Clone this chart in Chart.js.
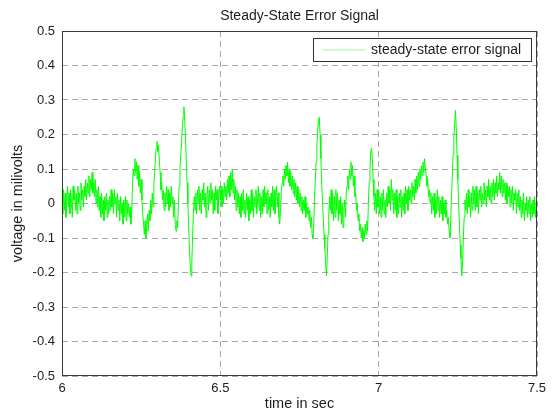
<!DOCTYPE html>
<html>
<head>
<meta charset="utf-8">
<script src="https://cdn.jsdelivr.net/npm/chart.js@4.4.1/dist/chart.umd.min.js"></script>
<style>
  html, body { margin: 0; padding: 0; background: #fff; }
  #wrap { width: 554px; height: 415px; position: relative; }
</style>
</head>
<body>
<div id="wrap"><canvas id="c" width="554" height="415"></canvas></div>
<script>
// ---- data ----
const chartTitle = 'Steady-State Error Signal';
const seriesName = 'steady-state error signal';
const xTitle = 'time in sec';
const yTitle = 'voltage in milivolts';

const tStart = 6.0;       // first sample time (s)
const tStep = 0.0025;     // sampling step (s)

// 6.000 .. 6.4975 s  (4 samples per 0.01 s, one line per 0.05 s)
const voltage6to6_5 = [
  0.02,-0.03,0.04,-0.02, 0.03,-0.04,0.01,0.05, -0.01,0.03,-0.03,0.04, 0.00,-0.04,0.05,0.01, 0.04,-0.02,0.03,-0.03,
  0.05,0.00,0.03,-0.02, 0.06,0.01,0.04,-0.01, 0.05,0.02,0.07,0.01, 0.06,0.03,0.08,0.02, 0.07,0.04,0.09,0.03,
  0.06,0.02,0.07,0.00, 0.04,-0.01,0.05,-0.02, 0.02,-0.04,0.03,-0.03, 0.01,-0.05,0.02,-0.02, 0.03,-0.04,0.01,-0.03,
  0.02,-0.02,0.04,-0.01, 0.03,-0.03,0.04,0.00, 0.02,-0.04,0.03,-0.02, 0.01,-0.05,0.02,-0.03, 0.00,-0.06,0.01,-0.04,
  0.02,-0.05,0.01,-0.03, 0.00,-0.04,-0.01,-0.06, -0.03,0.05,0.10,0.08, 0.13,0.09,0.12,0.07, 0.11,0.05,0.09,0.03,
  0.07,0.01,-0.03,-0.06, -0.09,-0.05,-0.10,-0.07, -0.03,-0.08,-0.02,-0.05, 0.01,-0.03,0.03,-0.01, 0.05,0.09,0.13,0.16,
  0.18,0.15,0.17,0.12, 0.09,0.04,0.06,0.01, 0.04,-0.02,0.03,-0.01, 0.05,0.00,0.04,-0.02, 0.03,-0.01,0.05,0.00,
  0.02,-0.04,0.01,-0.06, -0.08,-0.05,-0.07,0.00, 0.05,0.10,0.14,0.18, 0.22,0.25,0.28,0.24, 0.19,0.12,0.06,0.00,
  -0.07,-0.13,-0.18,-0.21, -0.17,-0.09,-0.03,0.02, -0.02,0.03,-0.03,0.04, 0.00,0.05,-0.02,0.03, -0.03,0.04,0.01,0.06,
  -0.01,0.03,-0.04,0.02, 0.05,-0.02,0.04,0.00, 0.06,0.01,0.04,-0.03, 0.03,-0.02,0.05,0.01, 0.04,-0.03,0.02,0.05
];
// 6.500 .. 6.9975 s
const voltage6_5to7 = [
  0.01,0.05,-0.01,0.04, 0.00,0.06,0.02,0.05, 0.01,0.07,0.03,0.08, 0.02,0.09,0.04,0.10, 0.03,0.07,0.01,0.05,
  -0.02,0.04,-0.01,0.03, -0.03,0.02,-0.04,0.03, -0.02,0.04,-0.03,0.01, -0.04,0.03,-0.02,0.02, -0.05,0.01,-0.03,0.04,
  -0.02,0.03,-0.04,0.02, -0.01,0.04,-0.03,0.01, 0.05,-0.02,0.03,-0.04, 0.02,-0.03,0.04,-0.01, 0.05,0.00,0.03,-0.03,
  0.04,-0.02,0.02,-0.04, 0.03,-0.01,0.05,-0.02, 0.04,-0.03,0.02,0.05, -0.01,0.03,-0.04,-0.06, -0.02,0.03,0.06,0.08,
  0.05,0.10,0.07,0.11, 0.08,0.12,0.06,0.10, 0.05,0.09,0.04,0.08, 0.03,0.07,0.02,0.06, 0.01,0.05,0.00,0.04,
  -0.01,0.03,-0.02,0.02, -0.03,0.01,-0.02,0.02, -0.04,0.00,-0.03,-0.01, -0.05,-0.02,-0.07,-0.04, -0.09,-0.10,-0.06,0.02,
  0.07,0.12,0.17,0.21, 0.24,0.25,0.20,0.13, 0.06,0.01,-0.04,-0.09, -0.13,-0.17,-0.21,-0.16, -0.09,-0.03,0.02,-0.02,
  0.04,-0.03,0.03,-0.05, 0.02,-0.04,0.04,-0.02, 0.03,-0.05,0.01,-0.03, 0.02,-0.06,0.00,-0.07, -0.02,0.01,-0.04,0.03,
  0.05,0.08,0.04,0.10, 0.07,0.12,0.08,0.11, 0.05,0.08,0.02,0.03, -0.02,0.00,-0.05,-0.03, -0.08,-0.06,-0.10,-0.07,
  -0.11,-0.08,-0.10,-0.06, -0.09,-0.05,-0.08,0.00, 0.06,0.10,0.15,0.16, 0.13,0.07,0.02,-0.02, 0.03,-0.03,0.04,-0.01
];
// 7.000 .. 7.500 s
const voltage7to7_5 = [
  0.04,-0.03,0.02,-0.04, 0.03,-0.02,0.04,-0.03, 0.01,-0.04,0.03,-0.01, 0.05,0.00,0.04,-0.02, 0.07,0.01,0.04,-0.03,
  0.03,-0.02,0.04,-0.04, 0.02,-0.03,0.03,-0.01, 0.04,-0.04,0.02,-0.02, 0.03,-0.03,0.05,0.00, 0.04,-0.02,0.05,0.01,
  0.04,0.00,0.06,0.02, 0.05,0.01,0.07,0.03, 0.08,0.04,0.09,0.05, 0.10,0.07,0.11,0.08, 0.12,0.09,0.13,0.10,
  0.08,0.05,0.07,0.02, 0.04,0.00,0.03,-0.03, 0.02,-0.02,0.03,-0.04, 0.01,-0.03,0.04,-0.02, 0.02,-0.04,0.01,-0.03,
  0.02,-0.05,0.00,-0.03, 0.01,-0.04,-0.02,-0.06, -0.04,-0.08,-0.10,-0.05, 0.02,0.08,0.14,0.19, 0.23,0.27,0.22,0.14,
  0.07,0.00,-0.06,-0.12, -0.16,-0.21,-0.17,-0.10, -0.04,0.01,-0.02,0.03, -0.03,0.04,-0.01,0.02, -0.04,0.03,-0.02,0.05,
  0.00,0.04,-0.02,0.05, -0.01,0.03,-0.03,0.04, 0.01,0.05,-0.01,0.03, 0.00,0.06,0.01,0.04, -0.01,0.05,0.02,0.07,
  0.01,0.05,0.00,0.06, 0.02,0.07,0.01,0.06, 0.03,0.08,0.02,0.06, 0.04,0.09,0.03,0.08, 0.02,0.07,0.03,0.06,
  0.01,0.06,0.00,0.05, 0.02,0.05,-0.01,0.04, 0.00,0.05,-0.02,0.03, 0.01,0.04,-0.03,0.03, -0.01,0.04,-0.02,0.02,
  -0.04,0.01,-0.03,0.03, -0.05,0.00,-0.02,0.02, -0.04,0.01,-0.03,0.02, -0.05,0.00,-0.04,0.01, -0.03,0.02,-0.04,0.00,
  -0.01
];

const xTickValues = [6, 6.5, 7, 7.5];
const xTickLabels = ['6', '6.5', '7', '7.5'];
const yTickValues = [-0.5, -0.4, -0.3, -0.2, -0.1, 0, 0.1, 0.2, 0.3, 0.4, 0.5];
const yTickLabels = ['-0.5', '-0.4', '-0.3', '-0.2', '-0.1', '0', '0.1', '0.2', '0.3', '0.4', '0.5'];

// ---- build points ----
const voltage = voltage6to6_5.concat(voltage6_5to7, voltage7to7_5);
const points = voltage.map((v, i) => ({ x: +(tStart + i * tStep).toFixed(4), y: v }));

const FONT = "'Liberation Sans', Arial, Helvetica, sans-serif";
const TEXT = '#1e1e1e';
const LINE_COLOR = '#00ff00';

const framePlugin = {
  id: 'frame',
  afterDraw(chart) {
    const { ctx, chartArea: a } = chart;
    ctx.save();
    // axes box
    ctx.strokeStyle = '#3a3a3a';
    ctx.lineWidth = 1;
    ctx.strokeRect(Math.round(a.left) + 0.5, Math.round(a.top) + 0.5,
                   Math.round(a.right - a.left) - 1, Math.round(a.bottom - a.top) - 1);
    // title, centred over the axes
    ctx.fillStyle = TEXT;
    ctx.font = '14px ' + FONT;
    ctx.textAlign = 'center';
    ctx.textBaseline = 'middle';
    ctx.fillText(chartTitle, (a.left + a.right) / 2, 16.5);
    // legend box (inside axes, top-right)
    const bw = 218, bh = 23;
    const bx = Math.round(a.right) - 6 - bw, by = Math.round(a.top) + 7;
    ctx.fillStyle = '#ffffff';
    ctx.fillRect(bx, by, bw, bh);
    ctx.strokeStyle = '#333333';
    ctx.strokeRect(bx + 0.5, by + 0.5, bw, bh);
    ctx.strokeStyle = '#99ff99';
    ctx.lineWidth = 1;
    ctx.beginPath();
    ctx.moveTo(bx + 10, by + 12);
    ctx.lineTo(bx + 52, by + 12);
    ctx.stroke();
    ctx.fillStyle = TEXT;
    ctx.font = '14px ' + FONT;
    ctx.textBaseline = 'middle';
    ctx.textAlign = 'left';
    ctx.fillText(seriesName, bx + 58, by + 12.5);
    ctx.restore();
  }
};

new Chart(document.getElementById('c'), {
  type: 'line',
  data: {
    datasets: [{
      label: seriesName,
      data: points,
      borderColor: LINE_COLOR,
      borderWidth: 1,
      pointRadius: 0,
      tension: 0,
      fill: false
    }]
  },
  options: {
    responsive: false,
    animation: false,
    layout: { padding: { left: 0, right: 17, top: 31, bottom: 0 } },
    plugins: {
      legend: { display: false },
      tooltip: { enabled: false },
      title: { display: false }
    },
    scales: {
      x: {
        type: 'linear',
        min: 6, max: 7.5,
        afterBuildTicks: s => { s.ticks = xTickValues.map(v => ({ value: v })); },
        afterFit: s => { s.height = 39; },
        border: { display: false, dash: [6, 4] },
        grid: {
          color: '#a8a8a8',
          lineWidth: 1,
          drawTicks: false
        },
        ticks: {
          color: TEXT,
          font: { family: FONT, size: 13 },
          padding: 5,
          maxRotation: 0,
          autoSkip: false,
          callback: (v) => { const i = xTickValues.indexOf(v); return i >= 0 ? xTickLabels[i] : ''; }
        },
        title: {
          display: true,
          text: xTitle,
          color: TEXT,
          font: { family: FONT, size: 14.5 },
          padding: { top: 0, bottom: 2 }
        }
      },
      y: {
        type: 'linear',
        min: -0.5, max: 0.5,
        afterBuildTicks: s => { s.ticks = yTickValues.map(v => ({ value: v })); },
        afterFit: s => { s.width = 62; },
        border: { display: false, dash: [6, 4] },
        grid: {
          color: '#a8a8a8',
          lineWidth: 1,
          drawTicks: false
        },
        ticks: {
          color: TEXT,
          font: { family: FONT, size: 13 },
          padding: 7,
          autoSkip: false,
          callback: (v) => { const i = yTickValues.findIndex(t => Math.abs(t - v) < 1e-9); return i >= 0 ? yTickLabels[i] : ''; }
        },
        title: {
          display: true,
          text: yTitle,
          color: TEXT,
          font: { family: FONT, size: 14.5 },
          padding: { top: 9, bottom: 0 }
        }
      }
    }
  },
  plugins: [framePlugin]
});
</script>
</body>
</html>
